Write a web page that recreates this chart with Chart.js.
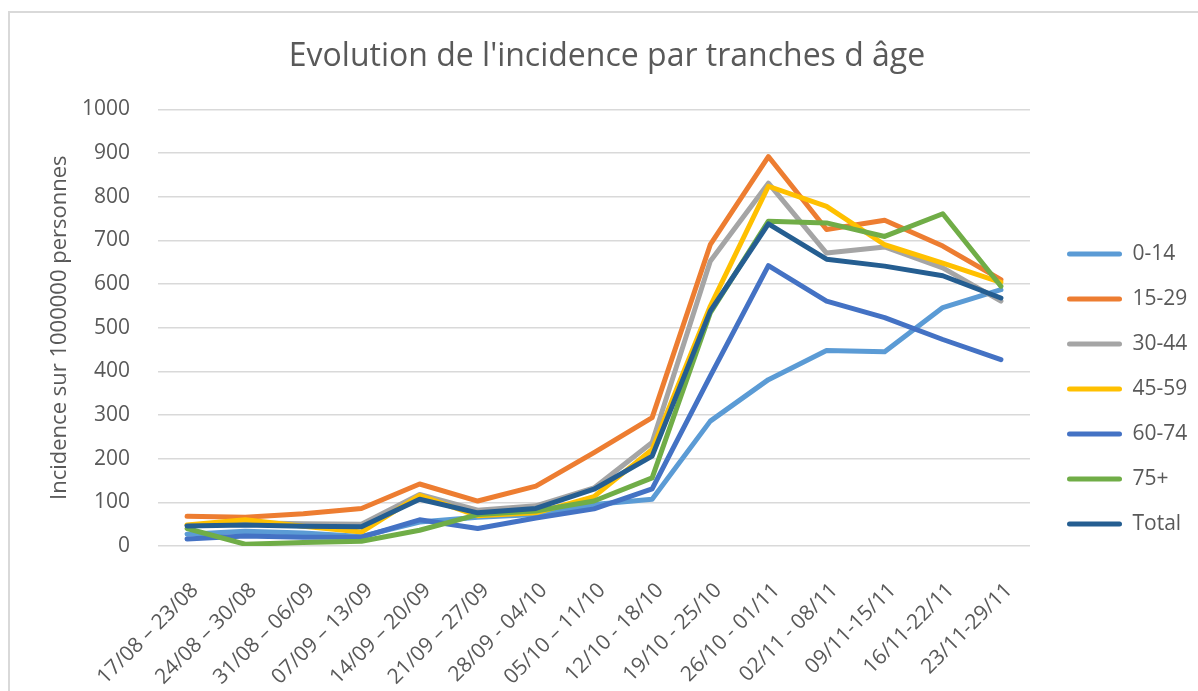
<!DOCTYPE html>
<html>
<head>
<meta charset="utf-8">
<script src="https://cdn.jsdelivr.net/npm/chart.js@4.4.1/dist/chart.umd.min.js"></script>
<style>
  html, body { margin: 0; padding: 0; background: #ffffff; }
  #frame { position: absolute; left: 8px; top: 11px; width: 1300px; height: 800px;
           border-left: 2px solid #d9d9d9; border-top: 2px solid #d9d9d9; box-sizing: border-box; }
  #wrap { position: absolute; left: 0; top: 0; width: 1198px; height: 691px; }
</style>
</head>
<body>
<div id="frame"></div>
<div id="wrap"><canvas id="c" width="1198" height="691"></canvas></div>
<script>
const chartTitle = "Evolution de l'incidence par tranches d âge";
const yAxisTitle = "Incidence sur 1000000 personnes";
const weeks = ['17/08 – 23/08','24/08 – 30/08','31/08 – 06/09','07/09 – 13/09','14/09 – 20/09','21/09 – 27/09','28/09 - 04/10','05/10 – 11/10','12/10 - 18/10','19/10 - 25/10','26/10 - 01/11','02/11 - 08/11','09/11-15/11','16/11-22/11','23/11-29/11'];
const seriesNames = ['0-14','15-29','30-44','45-59','60-74','75+','Total'];
const age0_14  = [27, 34, 30, 22, 55, 66, 72, 95, 107, 286, 381, 448, 445, 546, 587];
const age15_29 = [68, 66, 74, 86, 142, 103, 137, 214, 294, 690, 892, 725, 746, 687, 610];
const age30_44 = [47, 53, 51, 50, 118, 82, 92, 133, 237, 652, 831, 671, 685, 637, 561];
const age45_59 = [48, 60, 45, 32, 116, 69, 76, 113, 221, 549, 824, 778, 690, 648, 604];
const age60_74 = [16, 23, 20, 20, 60, 40, 64, 85, 131, 389, 642, 561, 523, 473, 427];
const age75p   = [40, 4, 8, 11, 36, 72, 80, 103, 156, 534, 744, 740, 709, 761, 595];
const total    = [46, 48, 45, 44, 107, 76, 86, 130, 206, 538, 738, 657, 641, 619, 568];
const seriesValues = [age0_14, age15_29, age30_44, age45_59, age60_74, age75p, total];
const seriesColors = ['#5B9BD5','#ED7D31','#A5A5A5','#FFC000','#4472C4','#70AD47','#255E91'];

const FONT = "'Open Sans', 'Liberation Sans', sans-serif";
const TXT = '#595959';

const nudge = {
  id: 'nudge',
  afterLayout(chart) {
    const L = chart.legend;
    if (L) {
      const dx = 13;
      const dy = 219.5 - L.top;
      L.left += dx; L.right += dx;
      L.top += dy; L.bottom += dy;
    }
    const T = chart.titleBlock;
    if (T) { T.left += 12; T.right += 12; }
  }
};

new Chart(document.getElementById('c'), {
  type: 'line',
  data: {
    labels: weeks,
    datasets: seriesNames.map((n, i) => ({
      label: n,
      data: seriesValues[i],
      borderColor: seriesColors[i],
      backgroundColor: seriesColors[i],
      borderWidth: 5,
      pointRadius: 0,
      tension: 0,
      fill: false,
      order: seriesNames.length - i,
      borderCapStyle: 'round',
      borderJoinStyle: 'round'
    }))
  },
  options: {
    responsive: false,
    animation: false,
    layout: { padding: { left: 10, top: 11, right: 18, bottom: 0 } },
    plugins: {
      title: {
        display: true, text: chartTitle, color: TXT,
        font: { family: FONT, size: 32, weight: 'normal' },
        padding: { top: 27, bottom: 33 }
      },
      legend: {
        position: 'right', align: 'start', maxWidth: 150,
        labels: {
          color: TXT, font: { family: FONT, size: 21 },
          boxWidth: 55, boxHeight: 5, padding: 24,
          sort: (a, b) => a.datasetIndex - b.datasetIndex,
          generateLabels(chart) {
            const items = Chart.defaults.plugins.legend.labels.generateLabels(chart);
            items.forEach(it => { it.fillStyle = it.strokeStyle; it.lineWidth = 0; it.borderRadius = 2.5; });
            return items;
          },
          useBorderRadius: true
        }
      },
      tooltip: { enabled: false }
    },
    scales: {
      x: {
        offset: true,
        grid: { display: false, offset: true },
        border: { display: false },
        ticks: { color: TXT, font: { family: FONT, size: 21 }, minRotation: 45, maxRotation: 45, autoSkip: false, padding: 24, labelOffset: 8 },
        afterFit(s) { s.height = 145; }
      },
      y: {
        min: 0, max: 1000,
        grid: { color: '#d9d9d9', lineWidth: 1.5, drawTicks: false },
        border: { display: false },
        ticks: { stepSize: 100, color: TXT, font: { family: FONT, size: 21 }, padding: 28,
                 callback: (v) => String(v) },
        title: { display: true, text: yAxisTitle, color: TXT, font: { family: FONT, size: 22 }, padding: { top: 37, bottom: 0 } },
        afterFit(s) { s.width = 148; }
      }
    }
  },
  plugins: [nudge]
});
</script>
</body>
</html>
